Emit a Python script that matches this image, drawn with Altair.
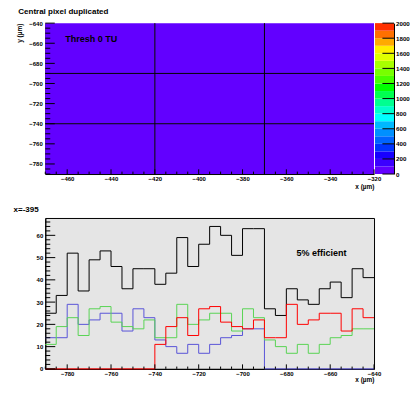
import altair as alt
import pandas as pd

FONT = "Liberation Sans"

# ---------------- top panel: pixel map ----------------
pix_x_lo = [-470, -420, -370]
pix_x_hi = [-420, -370, -320]
pix_y_lo = [-790, -740, -690]
pix_y_hi = [-740, -690, -640]
pix_counts = [[60, 60, 60], [60, 60, 60], [60, 60, 60]]
pix_edges_x = [-420, -370]
pix_edges_y = [-740, -690]

z_edges = [0, 100, 200, 300, 400, 500, 600, 700, 800, 900, 1000,
           1100, 1200, 1300, 1400, 1500, 1600, 1700, 1800, 1900, 2000]
z_labels = [0, 200, 400, 600, 800, 1000, 1200, 1400, 1600, 1800, 2000]
palette = ["#6200ff", "#3c00ff", "#1800ff", "#0034ff", "#0064ff",
           "#0090ff", "#00b8ff", "#00ffff", "#00ffcc", "#00ff90",
           "#00ff50", "#00ff00", "#48ff00", "#78ff00", "#a8ff00",
           "#e0ff00", "#ffee00", "#ffaa00", "#ff7000", "#ff3000"]

top_x_labels = [-460, -440, -420, -400, -380, -360, -340, -320]
top_y_labels = [-780, -760, -740, -720, -700, -680, -660, -640]

# ---------------- bottom panel: profile at x=-395 ----------------
bin_lo = [-790, -785, -780, -775, -770, -765, -760, -755, -750, -745,
          -740, -735, -730, -725, -720, -715, -710, -705, -700, -695,
          -690, -685, -680, -675, -670, -665, -660, -655, -650, -645]
bin_end = -640
black = [25, 33, 52, 35, 49, 53, 46, 36, 45, 45,
         38, 43, 59, 46, 56, 64, 60, 51, 63, 63,
         27, 24, 36, 31, 29, 36, 39, 32, 45, 41]
blue = [14, 14, 29, 20, 22, 25, 25, 17, 27, 23,
        13, 10, 7, 11, 7, 11, 14, 15, 18, 18,
        0, 0, 0, 0, 0, 0, 0, 0, 0, 0]
green = [11, 19, 23, 15, 27, 28, 21, 19, 18, 22,
         14, 14, 29, 20, 22, 25, 25, 17, 27, 23,
         13, 10, 7, 11, 7, 11, 14, 15, 18, 18]
red = [0, 0, 0, 0, 0, 0, 0, 0, 0, 0,
       11, 19, 23, 15, 27, 28, 21, 19, 18, 22,
       14, 14, 29, 20, 22, 25, 25, 17, 27, 23]
bot_x_labels = [-780, -760, -740, -720, -700, -680, -660, -640]
bot_y_labels = [0, 10, 20, 30, 40, 50, 60]

W, H = 329, 151
CBW = 19

def ax(values, title=None, **kw):
    d = dict(values=values, ticks=False, grid=False, domainColor="black",
             domainWidth=1, labelFont=FONT, labelFontWeight="bold",
             labelFontSize=6, labelColor="black", labelFlush=False,
             labelOverlap=False, labelPadding=2, format="d")
    if title is not None:
        d.update(title=title, titleFont=FONT, titleFontSize=6.5,
                 titleFontWeight="bold", titleColor="black")
    else:
        d.update(title=None)
    d.update(kw)
    return alt.Axis(**d)

# ---- heat map ----
cells = pd.DataFrame([
    dict(x0=pix_x_lo[i], x1=pix_x_hi[i], y0=pix_y_lo[j], y1=pix_y_hi[j], z=pix_counts[j][i])
    for i in range(3) for j in range(3)])

xs_top = alt.Scale(domain=[-470, -320], nice=False, zero=False)
ys_top = alt.Scale(domain=[-790, -640], nice=False, zero=False)
ax_top_x = ax(top_x_labels, "x (µm)", titleAnchor="end", titlePadding=1.5, labelPadding=1.5)
ax_top_y = ax(top_y_labels, "y (µm)", titleAnchor="end", titlePadding=6, labelPadding=3)

heat = alt.Chart(cells).mark_rect().encode(
    x=alt.X("x0:Q", scale=xs_top, axis=ax_top_x),
    x2="x1:Q",
    y=alt.Y("y0:Q", scale=ys_top, axis=ax_top_y),
    y2="y1:Q",
    color=alt.Color("z:Q", scale=alt.Scale(type="threshold", domain=z_edges[1:-1], range=palette),
                    legend=None),
)

vlines = alt.Chart(pd.DataFrame({"x": pix_edges_x})).mark_rule(color="black", strokeWidth=1).encode(
    x=alt.X("x:Q", scale=xs_top, axis=ax_top_x))
hlines = alt.Chart(pd.DataFrame({"y": pix_edges_y})).mark_rule(color="black", strokeWidth=1).encode(
    y=alt.Y("y:Q", scale=ys_top, axis=ax_top_y))

def yticks(lo, hi, minor, Lmaj, Lmin, labels, scale, axis):
    maj = pd.DataFrame({"v": labels})
    mins = [v for v in range(lo, hi + 1, minor) if v not in labels]
    mn = pd.DataFrame({"v": mins})
    a = alt.Chart(maj).mark_rule(color="black", strokeWidth=1).encode(
        y=alt.Y("v:Q", scale=scale, axis=axis), x=alt.value(0), x2=alt.value(Lmaj))
    b = alt.Chart(mn).mark_rule(color="black", strokeWidth=1).encode(
        y=alt.Y("v:Q", scale=scale, axis=axis), x=alt.value(0), x2=alt.value(Lmin))
    return [a, b]

def xticks(lo, hi, minor, Lmaj, Lmin, labels, scale, axis):
    maj = pd.DataFrame({"v": labels})
    mins = [v for v in range(lo, hi + 1, minor) if v not in labels]
    mn = pd.DataFrame({"v": mins})
    a = alt.Chart(maj).mark_rule(color="black", strokeWidth=1).encode(
        x=alt.X("v:Q", scale=scale, axis=axis), y=alt.value(H), y2=alt.value(H - Lmaj))
    b = alt.Chart(mn).mark_rule(color="black", strokeWidth=1).encode(
        x=alt.X("v:Q", scale=scale, axis=axis), y=alt.value(H), y2=alt.value(H - Lmin))
    return [a, b]

thresh = alt.Chart(pd.DataFrame({"x": [-449], "y": [-656], "t": ["Thresh 0 TU"]})).mark_text(
    font=FONT, fontSize=9, fontWeight="bold", color="black", align="center", baseline="middle"
).encode(x=alt.X("x:Q", scale=xs_top, axis=ax_top_x),
         y=alt.Y("y:Q", scale=ys_top, axis=ax_top_y), text="t:N")

top = alt.layer(
    heat, vlines, hlines,
    *yticks(-790, -640, 5, 9.5, 5, top_y_labels, ys_top, ax_top_y),
    *xticks(-470, -320, 5, 4.7, 2.4, top_x_labels, xs_top, ax_top_x),
    thresh,
).properties(
    width=W, height=H,
    view=alt.ViewBackground(stroke=None),
    title=alt.TitleParams("Central pixel duplicated", anchor="start", frame="group", dx=-27, offset=4,
                          font=FONT, fontSize=8, fontWeight="bold", color="black"),
)

# ---- colour bar ----
cb_scale = alt.Scale(domain=[0, 2000], nice=False)
cb_axis = ax(z_labels, None, orient="right", labelFontSize=6.2, labelPadding=1.5)
bands = pd.DataFrame({"lo": z_edges[:-1], "hi": z_edges[1:], "c": palette})
cbar_rect = alt.Chart(bands).mark_rect().encode(
    y=alt.Y("lo:Q", scale=cb_scale, axis=cb_axis),
    y2="hi:Q",
    color=alt.Color("c:N", scale=None),
)
cbar_ticks = alt.Chart(pd.DataFrame({"v": z_labels})).mark_rule(color="black", strokeWidth=1).encode(
    y=alt.Y("v:Q", scale=cb_scale, axis=cb_axis), x=alt.value(CBW - 11.6), x2=alt.value(CBW))
cbar = alt.layer(cbar_rect, cbar_ticks).properties(
    width=CBW, height=H, view=alt.ViewBackground(stroke=None))

top_row = alt.hconcat(top, cbar, spacing=1, bounds="flush")

# ---- bottom profile ----
def steps(vals, name):
    xs = bin_lo + [bin_end]
    ys = vals + [vals[-1]]
    return pd.DataFrame({"x": xs, "y": ys, "s": name})

xs_bot = alt.Scale(domain=[-790, -640], nice=False, zero=False)
ys_bot = alt.Scale(domain=[0, 67.8], nice=False, zero=False)
ax_bot_x = ax(bot_x_labels, "x (µm)", titleAnchor="end", titlePadding=0.5, labelPadding=1.5)
ax_bot_y = ax(bot_y_labels, None, labelPadding=2.5)

series = [("all", black, "#000000"), ("b", blue, "#5954d8"),
          ("g", green, "#59d454"), ("r", red, "#ff0000")]
lines = []
for name, vals, col in series:
    lines.append(alt.Chart(steps(vals, name)).mark_line(
        interpolate="step-after", color=col, strokeWidth=1).encode(
        x=alt.X("x:Q", scale=xs_bot, axis=ax_bot_x),
        y=alt.Y("y:Q", scale=ys_bot, axis=ax_bot_y)))

eff = alt.Chart(pd.DataFrame({"x": [-664], "y": [52.2], "t": ["5% efficient"]})).mark_text(
    font=FONT, fontSize=9, fontWeight="bold", color="black", align="center", baseline="middle"
).encode(x=alt.X("x:Q", scale=xs_bot, axis=ax_bot_x),
         y=alt.Y("y:Q", scale=ys_bot, axis=ax_bot_y), text="t:N")

bottom = alt.layer(
    *lines,
    *yticks(0, 66, 2, 10, 5, bot_y_labels, ys_bot, ax_bot_y),
    *xticks(-790, -640, 5, 4.5, 2.3, bot_x_labels, xs_bot, ax_bot_x),
    eff,
).properties(
    width=W, height=H,
    view=alt.ViewBackground(fill="#e5e5e5", stroke="black", strokeWidth=1),
    title=alt.TitleParams("x=-395", anchor="start", frame="group", dx=-31.7, offset=4,
                          font=FONT, fontSize=8, fontWeight="bold", color="black"),
)

chart = alt.vconcat(top_row, bottom, spacing=15).properties(
    padding={"left": 4.3, "top": 0, "right": 0, "bottom": 0},
    background="white",
)

chart.save("out.html", embed_options={"renderer": "svg", "actions": False})
